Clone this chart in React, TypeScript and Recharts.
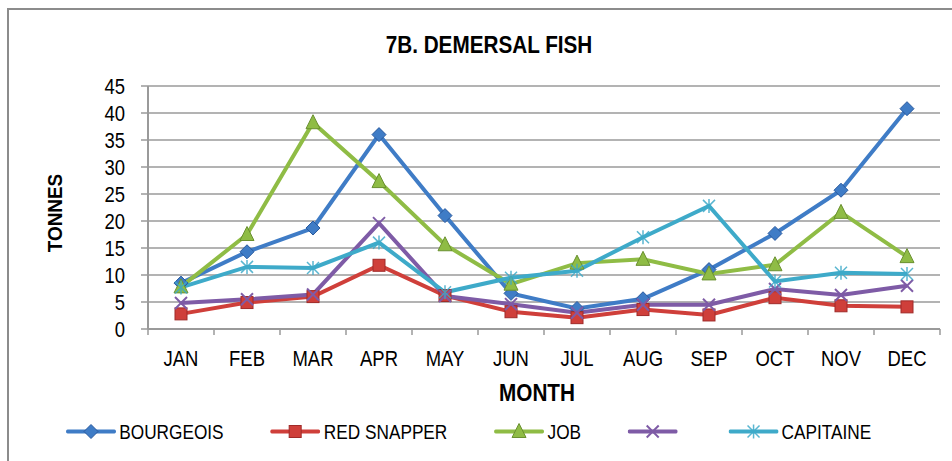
import React from 'react';
import { LineChart, Line, XAxis, YAxis, CartesianGrid } from 'recharts';

const months = ['JAN', 'FEB', 'MAR', 'APR', 'MAY', 'JUN', 'JUL', 'AUG', 'SEP', 'OCT', 'NOV', 'DEC'];
const bourgeois = [8.5, 14.3, 18.7, 36.0, 21.0, 6.6, 3.8, 5.6, 11.0, 17.7, 25.7, 40.8];
const redSnapper = [2.8, 4.9, 6.0, 11.8, 6.2, 3.2, 2.1, 3.6, 2.6, 5.8, 4.3, 4.1];
const job = [7.8, 17.5, 38.2, 27.3, 15.6, 8.3, 12.2, 12.9, 10.2, 11.9, 21.6, 13.4];
const purple = [4.8, 5.5, 6.4, 19.6, 6.1, 4.6, 3.0, 4.5, 4.5, 7.4, 6.3, 8.0];
const capitaine = [7.7, 11.5, 11.3, 16.0, 6.8, 9.5, 10.8, 17.0, 22.8, 8.8, 10.4, 10.2];
const yTicks = [0, 5, 10, 15, 20, 25, 30, 35, 40, 45];

const data = months.map((m, i) => ({
  month: m,
  bourgeois: bourgeois[i],
  redSnapper: redSnapper[i],
  job: job[i],
  purple: purple[i],
  capitaine: capitaine[i],
}));

const FONT = '"Liberation Sans", Arial, sans-serif';
const NARROW = 0.84;
const AXIS = '#9a9a9a';

type Shape = 'diamond' | 'square' | 'triangle' | 'x' | 'star';

const series: { key: string; name: string; color: string; dark: string; shape: Shape }[] = [
  { key: 'bourgeois', name: 'BOURGEOIS', color: '#3f7cc6', dark: '#2a5a9e', shape: 'diamond' },
  { key: 'redSnapper', name: 'RED SNAPPER', color: '#cf3f3a', dark: '#a02a28', shape: 'square' },
  { key: 'job', name: 'JOB', color: '#8fbc45', dark: '#6a9030', shape: 'triangle' },
  { key: 'purple', name: '', color: '#7e5ba6', dark: '#5e3f86', shape: 'x' },
  { key: 'capitaine', name: 'CAPITAINE', color: '#3eaac9', dark: '#2a8aa8', shape: 'star' },
];

function Marker({ cx, cy, shape, color, dark }: { cx: number; cy: number; shape: Shape; color: string; dark: string }) {
  if (cx == null || cy == null) return null;
  const s = 6;
  if (shape === 'diamond')
    return <polygon points={`${cx},${cy - s - 1} ${cx + s + 1},${cy} ${cx},${cy + s + 1} ${cx - s - 1},${cy}`} fill={color} stroke={dark} strokeWidth={1} />;
  if (shape === 'square')
    return <rect x={cx - s} y={cy - s} width={s * 2} height={s * 2} fill={color} stroke={dark} strokeWidth={1} />;
  if (shape === 'triangle')
    return <polygon points={`${cx},${cy - s - 2} ${cx + s + 1},${cy + s} ${cx - s - 1},${cy + s}`} fill={color} stroke={dark} strokeWidth={1} />;
  if (shape === 'x')
    return (
      <g stroke={color} strokeWidth={2}>
        <line x1={cx - s} y1={cy - s} x2={cx + s} y2={cy + s} />
        <line x1={cx - s} y1={cy + s} x2={cx + s} y2={cy - s} />
      </g>
    );
  return (
    <g stroke={color} strokeWidth={1.5} opacity={0.85}>
      <line x1={cx - s} y1={cy - s} x2={cx + s} y2={cy + s} />
      <line x1={cx - s} y1={cy + s} x2={cx + s} y2={cy - s} />
      <line x1={cx} y1={cy - s - 1} x2={cx} y2={cy + s + 1} />
    </g>
  );
}

// month label centred in its band, with the tick mark on the band's left edge (and right edge for the last one)
const XTick = ({ x, y, payload, index, visibleTicksCount }: any) => {
  const half = payload.offset ?? 0;
  return (
    <g>
      <line x1={x - half} x2={x - half} y1={y} y2={y + 6} stroke={AXIS} strokeWidth={1.5} />
      {index === visibleTicksCount - 1 ? <line x1={x + half} x2={x + half} y1={y} y2={y + 6} stroke={AXIS} strokeWidth={1.5} /> : null}
      <text transform={`translate(${x},${y + 21}) scale(${NARROW},1)`} textAnchor="middle" dy="0.71em" fill="#000" fontSize={22} fontFamily={FONT}>
        {payload.value}
      </text>
    </g>
  );
};

const YTick = ({ x, y, payload }: any) => (
  <text transform={`translate(${x},${y}) scale(${NARROW},1)`} textAnchor="end" dy="0.355em" fill="#000" fontSize={22} fontFamily={FONT}>
    {payload.value}
  </text>
);

const centered = (left: number, top: number, extra = ''): React.CSSProperties => ({
  position: 'absolute',
  left,
  top,
  lineHeight: 1,
  whiteSpace: 'nowrap',
  transform: `translate(-50%, -50%) ${extra}`,
});

function ChartLegend() {
  const k = 0.82;
  const lineW = 50 / k;
  return (
    <div
      style={{
        position: 'absolute',
        left: 66,
        top: 431,
        display: 'flex',
        alignItems: 'center',
        gap: 47 / k,
        transform: `translateY(-50%) scaleX(${k})`,
        transformOrigin: 'left center',
        fontFamily: FONT,
        fontSize: 21,
        lineHeight: 1,
        whiteSpace: 'nowrap',
      }}
    >
      {series.map((s) => (
        <div key={s.key} style={{ display: 'flex', alignItems: 'center' }}>
          <svg width={lineW} height={20} style={{ marginRight: 4 }}>
            <line x1={2} y1={10} x2={lineW - 2} y2={10} stroke={s.color} strokeWidth={4} strokeLinecap="round" />
            <g transform={`translate(${lineW / 2},10) scale(${1 / k},1) translate(${-lineW / 2},-10)`}>
              <Marker cx={lineW / 2} cy={10} shape={s.shape} color={s.color} dark={s.dark} />
            </g>
          </svg>
          {s.name ? <span>{s.name}</span> : null}
        </div>
      ))}
    </div>
  );
}

export default function App() {
  return (
    <div style={{ position: 'absolute', left: 0, top: 0, width: 952, height: 461, background: '#fff', overflow: 'hidden' }}>
      <div style={{ position: 'absolute', left: 7, top: 8, width: 960, height: 470, borderTop: '2px solid #8c8c8c', borderLeft: '2px solid #8c8c8c' }} />
      <div style={{ ...centered(489, 45, 'scaleX(0.9)'), fontFamily: FONT, fontWeight: 'bold', fontSize: 23 }}>7B. DEMERSAL FISH</div>
      <div style={{ ...centered(54, 213, 'rotate(-90deg) scaleX(0.9)'), fontFamily: FONT, fontWeight: 'bold', fontSize: 21 }}>TONNES</div>
      <div style={{ ...centered(537, 393, 'scaleX(0.9)'), fontFamily: FONT, fontWeight: 'bold', fontSize: 23 }}>MONTH</div>
      <LineChart width={952} height={461} data={data} margin={{ top: 86, right: 12, bottom: 102, left: 0 }} style={{ position: 'absolute', left: 0, top: 0 }}>
        <CartesianGrid vertical={false} stroke={AXIS} strokeWidth={1.5} />
        <XAxis
          dataKey="month"
          scale="band"
          height={30}
          axisLine={{ stroke: AXIS, strokeWidth: 2 }}
          tickLine={false}
          tickSize={0}
          tickMargin={0}
          interval={0}
          tick={<XTick />}
        />
        <YAxis
          width={148}
          domain={[0, 45]}
          ticks={yTicks}
          interval={0}
          tickSize={7}
          tickMargin={16}
          axisLine={{ stroke: AXIS, strokeWidth: 2 }}
          tickLine={{ stroke: AXIS, strokeWidth: 1.5 }}
          tick={<YTick />}
        />
        {series.map((s) => (
          <Line
            key={s.key}
            type="linear"
            dataKey={s.key}
            name={s.name}
            stroke={s.color}
            strokeWidth={4}
            isAnimationActive={false}
            dot={(p: any) => <Marker key={`${s.key}-${p.index}`} cx={p.cx} cy={p.cy} shape={s.shape} color={s.color} dark={s.dark} />}
            activeDot={false}
          />
        ))}
      </LineChart>
      <ChartLegend />
    </div>
  );
}
